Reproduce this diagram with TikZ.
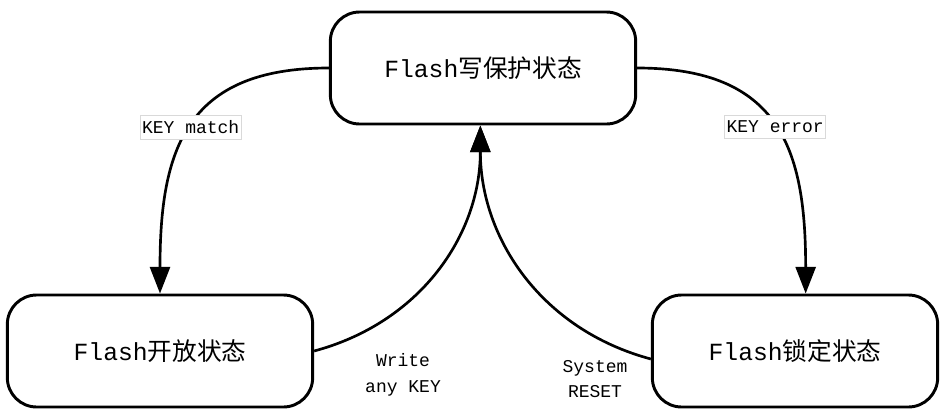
\documentclass[tikz,border=0pt]{standalone}
\usepackage{fontspec}
\setmainfont{Liberation Mono}
\newfontfamily\cjk{Noto Sans CJK SC}
\usetikzlibrary{arrows.meta}

\begin{document}
\begin{tikzpicture}[x=0.75pt, y=-0.75pt,
	statebox/.style={draw, line width=2.2pt, rounded corners=22pt, minimum height=84pt,
		font=\fontsize{18.5}{22}\selectfont},
	trans/.style={line width=2pt, -{Triangle[length=20pt,width=15pt]}},
	keylbl/.style={draw=gray!30, fill=white, line width=0.6pt, inner xsep=1.5pt, inner ysep=4pt,
		font=\fontsize{13.5}{15}\selectfont},
	note/.style={align=center, font=\fontsize{13.5}{19}\selectfont}]
	
	\useasboundingbox (0,0) rectangle (945,408);
	
	% states
	\node[statebox, minimum width=229pt] (protect) at (483,68) {Flash{\cjk 写保护状态}};
	\node[statebox, minimum width=229pt] (open) at (160,351) {Flash{\cjk 开放状态}};
	\node[statebox, minimum width=214pt] (lock) at (795,351) {Flash{\cjk 锁定状态}};
	
	% transitions
	\draw[trans] (protect.west) to[out=180, in=90, looseness=1.3]
		node[keylbl] (km) {KEY match} (open.north);
	\draw[trans] (protect.east) to[out=0, in=90, looseness=1.3]
		node[keylbl] (ke) {KEY error} ([xshift=8]lock.north);
	\draw[trans] (open.east) to[out=15, in=-90] ([xshift=-2]protect.south);
	\draw[trans] ([yshift=-6]lock.west) to[out=165, in=-90] ([xshift=-2]protect.south);
	
	\node[note] (wk) at (403,375) {Write\\any KEY};
	\node[note] (sr) at (595,379) {System\\RESET};
	
\end{tikzpicture}
\end{document}
